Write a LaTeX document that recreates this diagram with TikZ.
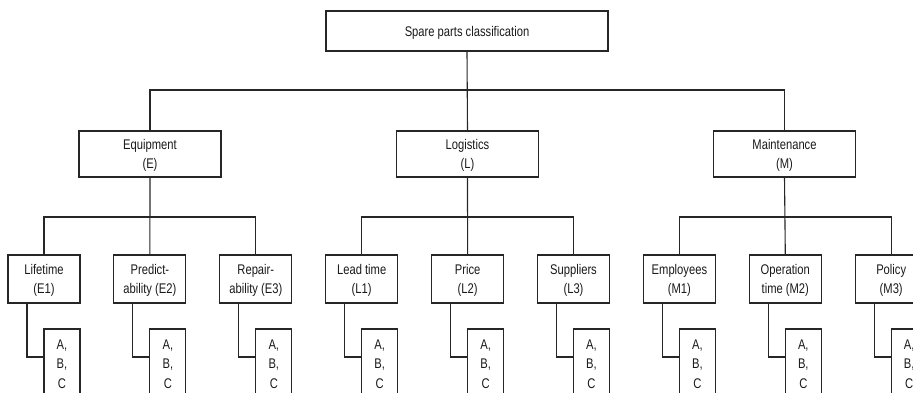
\documentclass[tikz,border=0pt]{standalone}
\usepackage{fontspec}
\setmainfont[FakeStretch=0.8]{Liberation Sans}
\begin{document}
\begin{tikzpicture}[x=1pt,y=-1pt,
  conn/.style={line width=1.1pt, draw=black!85},
  txt/.style={font=\fontsize{14}{19.5}\selectfont, align=center, text=black!90,
    text depth=-3pt},
  boxbase/.style={draw=black!85, line width=1.1pt, txt, inner sep=0pt},
  topbox/.style={boxbase, minimum width=282pt, minimum height=40pt},
  midbox/.style={boxbase, minimum width=142pt, minimum height=46pt},
  leafbox/.style={boxbase, minimum width=72pt, minimum height=48pt},
  abcbox/.style={boxbase, minimum width=36pt, minimum height=70pt}]
\useasboundingbox (0,0) rectangle (913,392);
\clip (0,0) rectangle (913,392);
\node[topbox] (top) at (467,31) {Spare parts classification};
\node[midbox] (E) at (150,154) {Equipment\\(E)};
\node[midbox] (L) at (467.5,154) {Logistics\\(L)};
\node[midbox] (M) at (784.5,154) {Maintenance\\(M)};
\coordinate (h0) at (467,90);
\draw[conn] (top.south) -- (L.north);
\draw[conn] (E.north) |- (h0) -| (M.north);
\foreach \n/\t [count=\i from 0] in {
  E1/{Lifetime\\(E1)}, E2/{Predict-\\ability (E2)}, E3/{Repair-\\ability (E3)},
  L1/{Lead time\\(L1)}, L2/{Price\\(L2)}, L3/{Suppliers\\(L3)},
  M1/{Employees\\(M1)}, M2/{Operation\\time (M2)}, M3/{Policy\\(M3)}}{
  \pgfmathsetmacro{\cx}{44+105.9*\i}
  \node[leafbox] (\n) at (\cx,279) {\t};
  \node[abcbox] (\n abc) at (\cx+18,364) {A,\\B,\\C};
  \draw[conn] ([xshift=-17pt]\n.south) |- ([yshift=7pt]\n abc.west);
}
\foreach \p in {E,L,M}{
  \coordinate (h\p) at (\p.south |- 0,217);
  \draw[conn] (\p.south) -- (\p2.north);
  \draw[conn] (\p1.north) |- (h\p) -| (\p3.north);
}
\end{tikzpicture}
\end{document}
